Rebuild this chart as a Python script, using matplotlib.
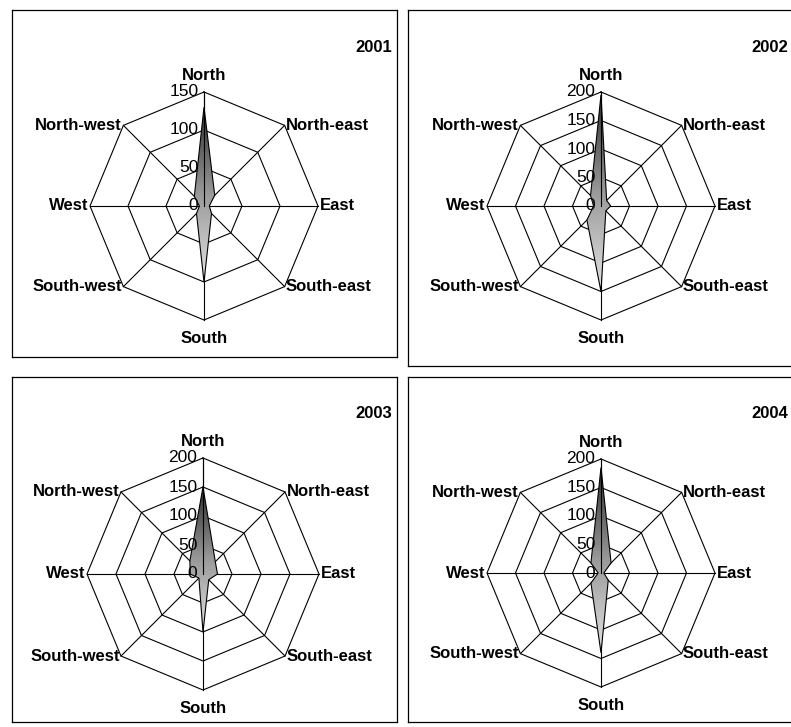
import numpy as np
import matplotlib.pyplot as plt
from matplotlib.patches import Polygon
from matplotlib.colors import LinearSegmentedColormap

plt.rcParams['font.family'] = ['Liberation Sans', 'DejaVu Sans']

# wind direction counts per year
directions = ['North', 'North-east', 'East', 'South-east',
              'South', 'South-west', 'West', 'North-west']
years = ['2001', '2002', '2003', '2004']
v2001 = [130, 20, 7, 14, 100, 14, 6, 18]
v2002 = [195, 14, 17, 12, 150, 35, 13, 26]
v2003 = [150, 30, 25, 14, 100, 10, 22, 32]
v2004 = [185, 25, 5, 18, 140, 25, 5, 25]
series = [v2001, v2002, v2003, v2004]
scale_max = [150, 200, 200, 200]
scale_step = 50

W, H = 791, 727
fig = plt.figure(figsize=(W / 100, H / 100), dpi=100)

# panel frames in pixels (left, top, right, bottom), chart centre and outer radius
boxes = [(12, 10, 397, 357), (408, 10, 793, 366),
         (12, 377, 397, 722), (408, 377, 793, 722)]
centres = [(204, 206), (601, 206), (203, 574), (601, 573)]
radius = [114, 114, 116, 114]

shade = LinearSegmentedColormap.from_list('shade', ['#2e2e2e', '#9a9a9a', '#e2e2e2'])
angles = np.pi / 2 - np.arange(len(directions)) * np.pi / 4
ca, sa = np.cos(angles), np.sin(angles)

for i in range(4):
    l, t, r, b = boxes[i]
    cx, cy = centres[i]
    k = radius[i] / scale_max[i]
    ax = fig.add_axes([l / W, 1 - b / H, (r - l) / W, (b - t) / H])

    # octagonal rings and spokes
    for v in range(scale_step, scale_max[i] + 1, scale_step):
        ax.plot(np.append(v * ca, v * ca[0]), np.append(v * sa, v * sa[0]),
                color='black', lw=0.8, zorder=1)
    for j in range(len(directions)):
        ax.plot([0, scale_max[i] * ca[j]], [0, scale_max[i] * sa[j]],
                color='black', lw=0.8, zorder=1)

    # data polygon with vertical grey gradient
    vals = np.array(series[i], dtype=float)
    xs, ys = vals * ca, vals * sa
    poly = Polygon(np.column_stack([xs, ys]), closed=True, facecolor='none',
                   edgecolor='black', lw=0.8, zorder=3)
    ax.add_patch(poly)
    grad = np.linspace(0, 1, 256).reshape(-1, 1)
    im = ax.imshow(grad, cmap=shade, extent=[xs.min(), xs.max(), ys.min(), ys.max()],
                   origin='upper', aspect='auto', zorder=2, interpolation='bilinear')
    im.set_clip_path(poly)
    ax.plot([0, 0], [0, scale_max[i]], color='black', lw=0.8, zorder=4)

    ax.set_xlim(-(cx - l) / k, (r - cx) / k)
    ax.set_ylim(-(b - cy) / k, (cy - t) / k)
    ax.set_xticks([])
    ax.set_yticks([])
    for s in ax.spines.values():
        s.set_linewidth(0.9)

    # value labels along the north axis
    for v in range(0, scale_max[i] + 1, scale_step):
        ax.annotate(str(v), (0, v), xytext=(-4, 0), textcoords='offset points',
                    ha='right', va='center', fontsize=12.5)

    # direction labels
    R = scale_max[i]
    for j, name in enumerate(directions):
        x, y = R * ca[j], R * sa[j]
        if name == 'North':
            off, ha = (0, 12), 'center'
        elif name == 'South':
            off, ha = (0, -13.5), 'center'
        elif x > 1:
            off, ha = (1, 0), 'left'
        else:
            off, ha = (-1, 0), 'right'
        ax.annotate(name, (x, y), xytext=off, textcoords='offset points',
                    ha=ha, va='center', fontsize=12, fontweight='bold')

    ax.annotate(years[i], (r - 5, H - t - 37), xycoords='figure pixels',
                ha='right', va='center', fontsize=12, fontweight='bold')

fig.savefig('out.png', dpi=100)
